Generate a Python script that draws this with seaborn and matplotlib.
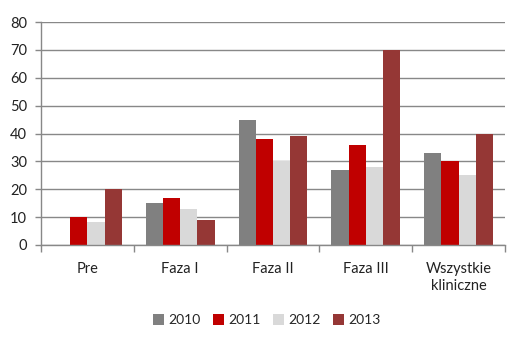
import matplotlib
matplotlib.use("Agg")
import matplotlib.pyplot as plt
import seaborn as sns
import pandas as pd
from matplotlib.patches import Patch

categories = ["Pre", "Faza I", "Faza II", "Faza III", "Wszystkie\nkliniczne"]
years = ["2010", "2011", "2012", "2013"]
values_2010 = [0, 15, 45, 27, 33]
values_2011 = [10, 17, 38, 36, 30]
values_2012 = [8.3, 13, 30, 28, 25]
values_2013 = [20, 9, 39, 70, 40]
colors = ["#808080", "#C00000", "#D9D9D9", "#953735"]

series = [values_2010, values_2011, values_2012, values_2013]
rows = []
for year, vals in zip(years, series):
    for cat, v in zip(categories, vals):
        rows.append({"Kategoria": cat, "Rok": year, "Wartość": v})
df = pd.DataFrame(rows)

sns.set_theme(style="white")
plt.rcParams["font.family"] = ["Lato", "DejaVu Sans"]

fig = plt.figure(figsize=(5.28, 3.46), dpi=100)
ax = fig.add_axes([41 / 528, 1 - 245 / 346, 464 / 528, 223 / 346])

sns.barplot(data=df, x="Kategoria", y="Wartość", hue="Rok", palette=colors,
            width=0.74, saturation=1, ax=ax, legend=False, errorbar=None,
            linewidth=0, edgecolor="none")

ax.set_ylim(0, 80)
ax.set_xlim(-0.5, len(categories) - 0.5)
ax.set_yticks(range(0, 81, 10))
ax.yaxis.grid(True, color="#888888", linewidth=1)
ax.set_axisbelow(True)
ax.set_xlabel("")
ax.set_ylabel("")

for side in ["top", "right"]:
    ax.spines[side].set_visible(False)
for side in ["left", "bottom"]:
    ax.spines[side].set_color("#888888")
    ax.spines[side].set_linewidth(1)

fs = 10.5
ax.tick_params(axis="y", which="major", length=4, color="#888888", width=1,
               labelsize=fs, labelcolor="#222222", pad=6, left=True)
ax.tick_params(axis="x", which="major", length=0, labelsize=fs,
               labelcolor="#222222", pad=12)
ax.set_xticks(range(len(categories)))
ax.set_xticklabels(categories, linespacing=1.3)
ax.set_xticks([i - 0.5 for i in range(len(categories) + 1)], minor=True)
ax.tick_params(axis="x", which="minor", length=5, color="#888888", width=1,
               bottom=True)

handles = [Patch(facecolor=c, edgecolor="none") for c in colors]
fig.legend(handles, years, loc="center", bbox_to_anchor=(0.505, 1 - 320 / 346),
           ncol=4, frameon=False, fontsize=10, handlelength=0.8,
           handleheight=0.8, handletextpad=0.3, columnspacing=0.9)

fig.savefig("out.png", dpi=100)
